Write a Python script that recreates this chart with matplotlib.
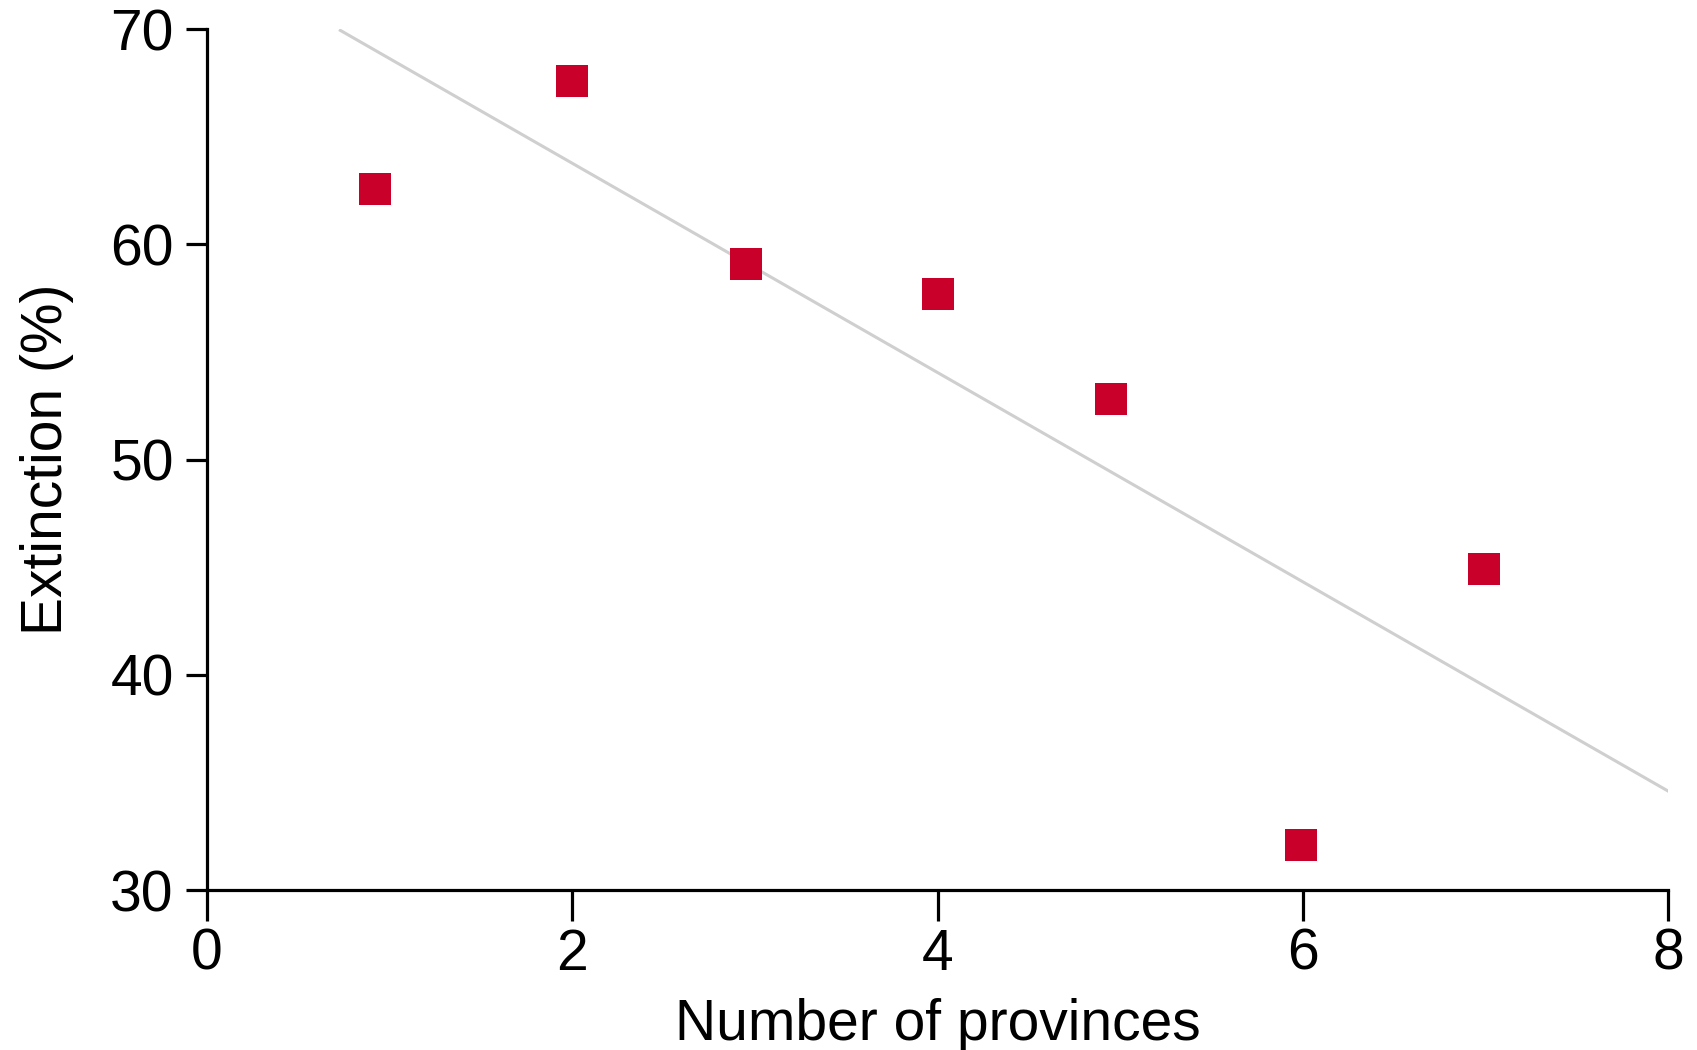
import numpy as np
import matplotlib
matplotlib.use("Agg")
import matplotlib.pyplot as plt

plt.rcParams['font.family'] = ['Liberation Sans', 'DejaVu Sans']

# Data
provinces = [0.92, 2.0, 2.95, 4.0, 4.95, 5.99, 6.99]
extinction = [62.6, 67.6, 59.1, 57.7, 52.8, 32.1, 44.9]

# Trend line end points
trend_x = [0.73, 8.0]
trend_y = [69.95, 34.6]

fig = plt.figure(figsize=(16.97, 10.5), dpi=100)
ax = fig.add_axes([207 / 1697, 1 - 890 / 1050, (1668 - 207) / 1697, (890 - 29.3) / 1050])

ax.plot(trend_x, trend_y, color="#cfcfcf", lw=2.2, zorder=1)
ax.plot(provinces, extinction, ls="none", marker="s", ms=23, color="#c8002a",
        markeredgewidth=0, zorder=2)

ax.set_xlim(0, 8)
ax.set_ylim(30, 70)
ax.set_xticks([0, 2, 4, 6, 8])
ax.set_yticks([30, 40, 50, 60, 70])

for s in ["top", "right"]:
    ax.spines[s].set_visible(False)
for s in ["left", "bottom"]:
    ax.spines[s].set_linewidth(2.3)

ax.tick_params(axis="x", length=22, width=2.3, labelsize=41, pad=5, direction="out")
ax.tick_params(axis="y", length=15, width=2.3, labelsize=41, pad=9, direction="out")

ax.set_xlabel("Number of provinces", fontsize=41, labelpad=12)
ax.set_ylabel("Extinction (%)", fontsize=41, labelpad=26)

fig.savefig("out.png", dpi=100)
